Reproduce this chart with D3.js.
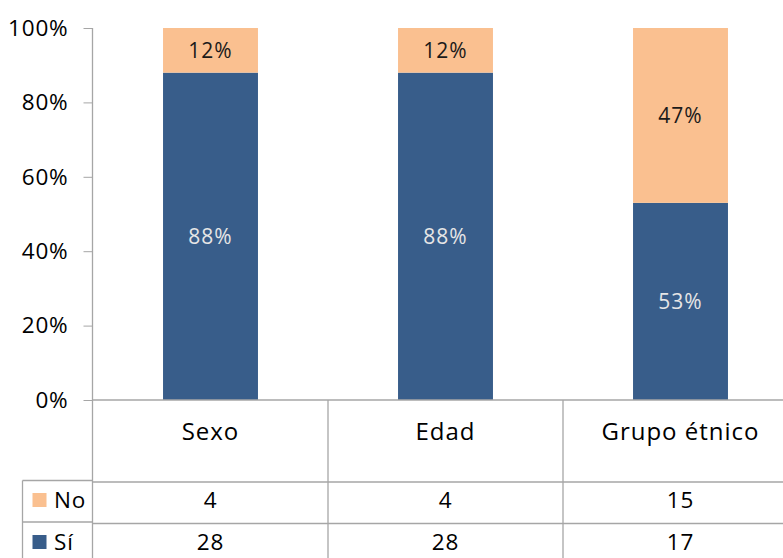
<!DOCTYPE html>
<head>
    <meta charset="utf-8">
    <script src="https://d3js.org/d3.v7.min.js"></script>
    <style>
      body { margin: 0; background: white; }
      text { font-family: "Open Sans", sans-serif; fill: #000; }
    </style>
</head>
<body>
    <script>
        // data
        var categories = ["Sexo", "Edad", "Grupo étnico"]
        var seriesNames = ["Sí", "No"]
        var countSi = [28, 28, 17]
        var countNo = [4, 4, 15]
        var pctSi = [0.88, 0.88, 0.53]
        var pctNo = [0.12, 0.12, 0.47]
        var yTicks = [0, 0.2, 0.4, 0.6, 0.8, 1]

        var colors = {"Sí": "#385D8A", "No": "#FAC090"}
        var gridColor = "#a6a6a6"

        var svg_w = 783, svg_h = 558
        var svg = d3.select("body").append("svg")
          .attr("width", svg_w)
          .attr("height", svg_h)

        var axisX = 92.5
        var plotTop = 28, plotBottom = 400
        var catRowBottom = 482, noRowBottom = 523.5
        var legendLeft = 22.5
        var fontSize = "22.5px"

        var x = d3.scaleBand()
          .domain(categories)
          .range([93, 798])
          .padding(0)
        var barW = x.bandwidth() * 0.404

        var y = d3.scaleLinear()
          .domain([0, 1])
          .range([plotBottom, plotTop])

        // y axis
        var yAxis = svg.append("g")
          .attr("transform", "translate(" + axisX + ",0)")
          .call(d3.axisLeft(y).tickValues(yTicks).tickFormat(d3.format(".0%")).tickSize(9).tickPadding(15))
        yAxis.select(".domain").remove()
        yAxis.selectAll("line").attr("stroke", gridColor)
        yAxis.selectAll("text")
          .attr("font-size", fontSize)
          .attr("font-family", "Open Sans")
          .attr("letter-spacing", "0.8px")
          .attr("fill", "#000")

        // bars
        var stack = categories.map(function(c, i) {
          return [
            {cat: c, s: "Sí", y0: 0, y1: pctSi[i]},
            {cat: c, s: "No", y0: pctSi[i], y1: pctSi[i] + pctNo[i]}
          ]
        })
        var barG = svg.append("g")
        stack.forEach(function(segs) {
          segs.forEach(function(d) {
            var top = y(Math.min(d.y1, 1))
            barG.append("rect")
              .attr("x", x(d.cat) + (x.bandwidth() - barW) / 2)
              .attr("y", top)
              .attr("width", barW)
              .attr("height", y(d.y0) - top)
              .attr("fill", colors[d.s])
            barG.append("text")
              .attr("x", x(d.cat) + x.bandwidth() / 2)
              .attr("y", (y(d.y0) + top) / 2)
              .attr("dy", "0.36em")
              .attr("text-anchor", "middle")
              .attr("font-size", "21px")
              .attr("letter-spacing", "1px")
              .style("fill", d.s == "Sí" ? "#e6e6e6" : "#1a1a1a")
              .text(d3.format(".0%")(d.y1 - d.y0))
          })
        })

        // axis line (runs down through the table)
        var lines = svg.append("g").attr("stroke", gridColor).attr("stroke-width", 1.3)
        lines.append("line").attr("x1", axisX).attr("x2", axisX).attr("y1", plotTop).attr("y2", svg_h)
        lines.append("line").attr("x1", axisX).attr("x2", svg_w).attr("y1", plotBottom).attr("y2", plotBottom)
        lines.append("line").attr("x1", axisX).attr("x2", svg_w).attr("y1", catRowBottom).attr("y2", catRowBottom)
        lines.append("line").attr("x1", axisX).attr("x2", svg_w).attr("y1", noRowBottom).attr("y2", noRowBottom)
        categories.slice(1).forEach(function(c) {
          lines.append("line").attr("x1", x(c)).attr("x2", x(c)).attr("y1", plotBottom).attr("y2", svg_h)
        })
        // legend cells
        lines.append("line").attr("x1", legendLeft).attr("x2", axisX).attr("y1", catRowBottom - 1.5).attr("y2", catRowBottom - 1.5)
        lines.append("line").attr("x1", legendLeft).attr("x2", axisX).attr("y1", noRowBottom - 1.5).attr("y2", noRowBottom - 1.5)
        lines.append("line").attr("x1", legendLeft).attr("x2", legendLeft).attr("y1", catRowBottom - 1.5).attr("y2", svg_h)

        // category labels
        svg.selectAll(".catlabel")
          .data(categories)
          .enter()
          .append("text")
          .attr("x", function(d) { return x(d) + x.bandwidth() / 2 })
          .attr("y", 431)
          .attr("dy", "0.36em")
          .attr("text-anchor", "middle")
          .attr("font-size", "24px")
          .attr("letter-spacing", "1px")
          .text(function(d) { return d })

        // table values
        var rows = [
          {name: "No", vals: countNo, cy: 500},
          {name: "Sí", vals: countSi, cy: 542}
        ]
        rows.forEach(function(r) {
          svg.append("rect")
            .attr("x", 32.5).attr("y", r.cy - 7)
            .attr("width", 14).attr("height", 14)
            .attr("fill", colors[r.name])
          svg.append("text")
            .attr("x", 54).attr("y", r.cy)
            .attr("dy", "0.36em")
            .attr("font-size", fontSize)
            .attr("letter-spacing", "0.8px")
            .text(r.name)
          svg.selectAll(null)
            .data(r.vals)
            .enter()
            .append("text")
            .attr("x", function(d, i) { return x(categories[i]) + x.bandwidth() / 2 })
            .attr("y", r.cy)
            .attr("dy", "0.36em")
            .attr("text-anchor", "middle")
            .attr("font-size", fontSize)
            .attr("letter-spacing", "0.8px")
            .text(function(d) { return d })
        })
    </script>
</body>
